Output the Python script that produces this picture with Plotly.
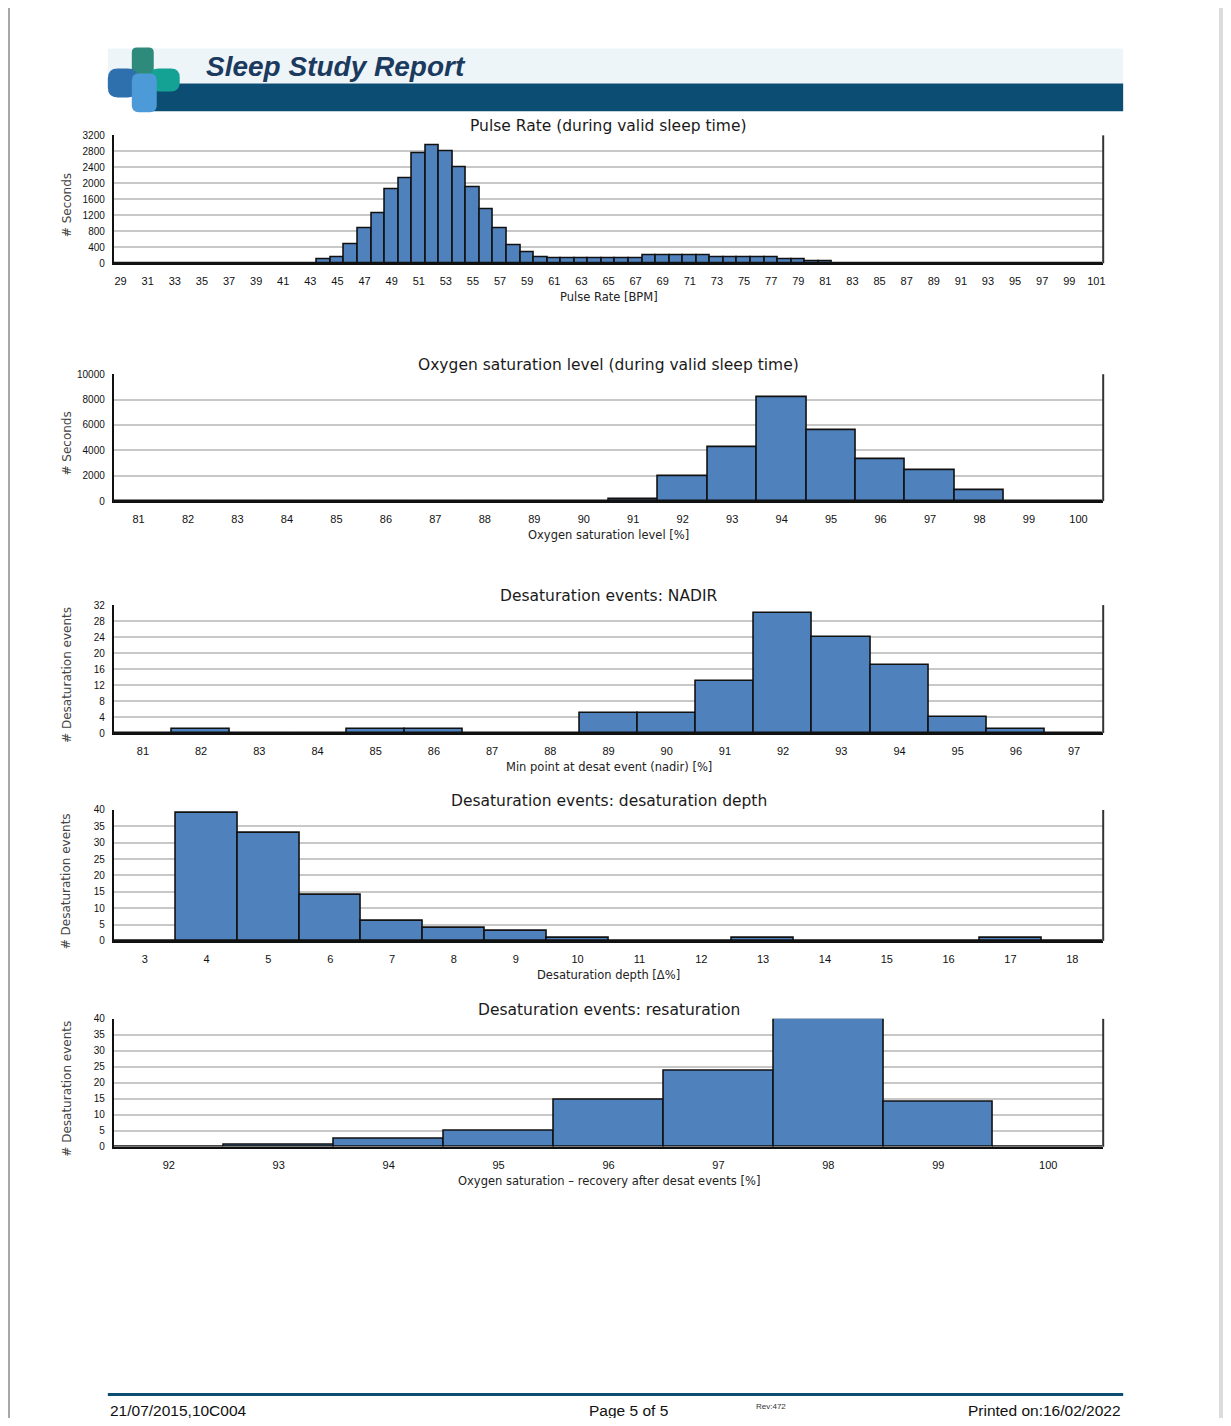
import plotly.graph_objects as go
from plotly.subplots import make_subplots

# page is 1231x1426; the browser body adds an 8px margin, so the figure is
# sized to fit inside it and every position below is given in page pixels
PAGE_W, PAGE_H = 1231, 1426
OFF = 8
W, H = PAGE_W - 2 * OFF, PAGE_H - 2 * OFF
VS, VC = 1.008, 711  # small vertical stretch about the page middle

BAR = "#4f81bd"
GRID = "#c8c8c8"
NAVY = "#0c4d73"
FONT = "Liberation Sans, Arial, sans-serif"
WIDE = "DejaVu Sans, Verdana, sans-serif"
TICKFONT = "Liberation Sans Narrow, Liberation Sans, Arial, sans-serif"

# ── Data ──────────────────────────────────────────────────────────────────────
pulse_bpm = list(range(29, 102))
pulse_sec = ([0] * 15
             + [100, 150, 480, 870, 1260, 1845, 2135, 2750, 2950, 2810,
                2395, 1895, 1355, 875, 440, 265, 140]
             + [125] * 7 + [200] * 5 + [140] * 5 + [100, 100, 60, 50]
             + [0] * 20)

spo2_level = list(range(81, 101))
spo2_sec = [0] * 10 + [130, 1950, 4250, 8200, 5600, 3300, 2420, 880, 0, 0]

nadir_level = list(range(81, 98))
nadir_events = [0, 1, 0, 0, 1, 1, 0, 0, 5, 5, 13, 30, 24, 17, 4, 1, 0]

depth_level = list(range(3, 19))
depth_events = [0, 39, 33, 14, 6, 4, 3, 1, 0, 0, 1, 0, 0, 0, 1, 0]

resat_level = list(range(92, 101))
resat_events = [0, 0.7, 2.4, 4.9, 14.6, 23.7, 40, 14.1, 0]

# (x, y, title, x-title, y-title, y-max, y-step, tick step, top px, bottom px)
panels = [
    (pulse_bpm, pulse_sec, "Pulse Rate (during valid sleep time)",
     "Pulse Rate [BPM]", "# Seconds", 3200, 400, 2, 135, 263),
    (spo2_level, spo2_sec, "Oxygen saturation level (during valid sleep time)",
     "Oxygen saturation level [%]", "# Seconds", 10000, 2000, 1, 374, 501),
    (nadir_level, nadir_events, "Desaturation events: NADIR",
     "Min point at desat event (nadir) [%]", "# Desaturation events", 32, 4, 1, 605, 733),
    (depth_level, depth_events, "Desaturation events: desaturation depth",
     "Desaturation depth [Δ%]", "# Desaturation events", 40, 5, 1, 810, 941),
    (resat_level, resat_events, "Desaturation events: resaturation",
     "Oxygen saturation – recovery after desat events [%]", "# Desaturation events",
     40, 5, 1, 1019, 1147),
]

X0, X1 = 114, 1105


def px(x):
    return (x - OFF) / W


def py(y):
    y = VC + (y - VC) * VS
    return 1 - (y - OFF) / H


def label(text, x, y, size, color="#111", family=FONT, **kw):
    d = dict(text=text, x=px(x), y=py(y), xref="paper", yref="paper", showarrow=False,
             xanchor="center", yanchor="middle",
             font=dict(family=family, size=size, color=color))
    d.update(kw)
    return d


def rect(x0, y0, x1, y1, color, **kw):
    d = dict(type="rect", xref="paper", yref="paper", x0=px(x0), x1=px(x1),
             y0=py(y1), y1=py(y0), fillcolor=color, line=dict(width=0))
    d.update(kw)
    return d


def rounded(x0, y0, x1, y1, r, color):
    pts = [("M", x0 + r, y0), ("L", x1 - r, y0), ("Q", x1, y0, x1, y0 + r),
           ("L", x1, y1 - r), ("Q", x1, y1, x1 - r, y1), ("L", x0 + r, y1),
           ("Q", x0, y1, x0, y1 - r), ("L", x0, y0 + r), ("Q", x0, y0, x0 + r, y0)]
    path = ""
    for p in pts:
        coords = p[1:]
        xy = " ".join(f"{px(coords[k]):.5f},{py(coords[k + 1]):.5f}"
                      for k in range(0, len(coords), 2))
        path += f"{p[0]} {xy} "
    return dict(type="path", xref="paper", yref="paper", path=path + "Z",
                fillcolor=color, line=dict(width=0))


def hline(x0, x1, y, color, width):
    return dict(type="line", xref="paper", yref="paper", x0=px(x0), x1=px(x1),
                y0=py(y), y1=py(y), line=dict(color=color, width=width))


def vline(x, y0, y1, color, width):
    return dict(type="line", xref="paper", yref="paper", x0=px(x), x1=px(x),
                y0=py(y1), y1=py(y0), line=dict(color=color, width=width))


fig = make_subplots(rows=5, cols=1)
shapes, annotations = [], []

for i, (xs, ys, title, xt, yt, ymax, ystep, tstep, top, bot) in enumerate(panels, start=1):
    fig.add_trace(go.Bar(
        x=xs, y=ys, width=1, marker=dict(color=BAR, line=dict(color="#111", width=1.6)),
        showlegend=False, hoverinfo="x+y",
    ), row=i, col=1)
    tv = xs[::tstep]
    fig.update_xaxes(
        row=i, col=1, domain=[px(X0), px(X1)], range=[xs[0] - 0.5, xs[-1] + 0.5],
        tickmode="array", tickvals=tv, ticktext=[str(v) for v in tv],
        showline=True, linecolor="#111", linewidth=2, showgrid=False, zeroline=False,
        ticks="outside", ticklen=7, tickcolor="rgba(0,0,0,0)",
        tickfont=dict(family=TICKFONT, size=11, color="#111"),
    )
    fig.update_yaxes(
        row=i, col=1, domain=[py(bot), py(top)], range=[0, ymax], dtick=ystep, tick0=0,
        tickformat="d", showline=True, linecolor="#111", linewidth=2, showgrid=True,
        gridcolor=GRID, gridwidth=2, zeroline=False,
        ticks="outside", ticklen=5, tickcolor="rgba(0,0,0,0)",
        tickfont=dict(family=TICKFONT, size=10, color="#111"),
    )
    shapes.append(vline(X1, top, bot, "#333", 2))
    mid = (X0 + X1) / 2
    annotations += [
        label(title, mid, top - 9, 15.5, "#1a1a1a", WIDE),
        label(xt, mid, bot + 34, 11.5, "#222", WIDE),
        label(yt, 67, (top + bot) / 2 + 6, 12, "#444", WIDE, textangle=-90),
    ]

# ── Page frame ────────────────────────────────────────────────────────────────
shapes += [
    rect(0, 0, 8, PAGE_H, "#e4e4e4", layer="below"),
    vline(9, 5, PAGE_H, "#a8a8a8", 2),
    rect(1221, 0, PAGE_W, PAGE_H, "#dcdcdc", layer="below"),
    hline(0, PAGE_W, 5, "#c4c4c4", 2),
]

# ── Header banner and logo ────────────────────────────────────────────────────
shapes += [
    rect(108, 48, 1125, 83, "#eef5f9", layer="below"),
    rect(150, 83, 1125, 111, NAVY),
    rounded(132, 47, 154, 84, 5, "#2e8a7b"),
    rounded(150, 68, 180, 91, 9, "#14a294"),
    rounded(108, 68, 138, 97, 10, "#2e6fae"),
    rounded(132, 73, 157, 112, 7, "#4c9bd8"),
    hline(108, 1125, 1395, NAVY, 3),
]

annotations += [
    label("<b><i>Sleep Study Report</i></b>", 204, 66, 28, "#1b3a5e", xanchor="left"),
    label("21/07/2015,10C004", 108, 1411, 15.5, xanchor="left"),
    label("Page 5 of 5", 630, 1411, 15.5),
    label("Rev:472", 772, 1407, 8, "#333"),
    label("Printed on:16/02/2022", 1125, 1411, 15.5, xanchor="right"),
]

fig.update_layout(
    width=W, height=H, margin=dict(l=0, r=0, t=0, b=0),
    paper_bgcolor="white", plot_bgcolor="white", bargap=0,
    shapes=shapes, annotations=annotations, font=dict(family=FONT),
)

fig.write_html("out.html")
